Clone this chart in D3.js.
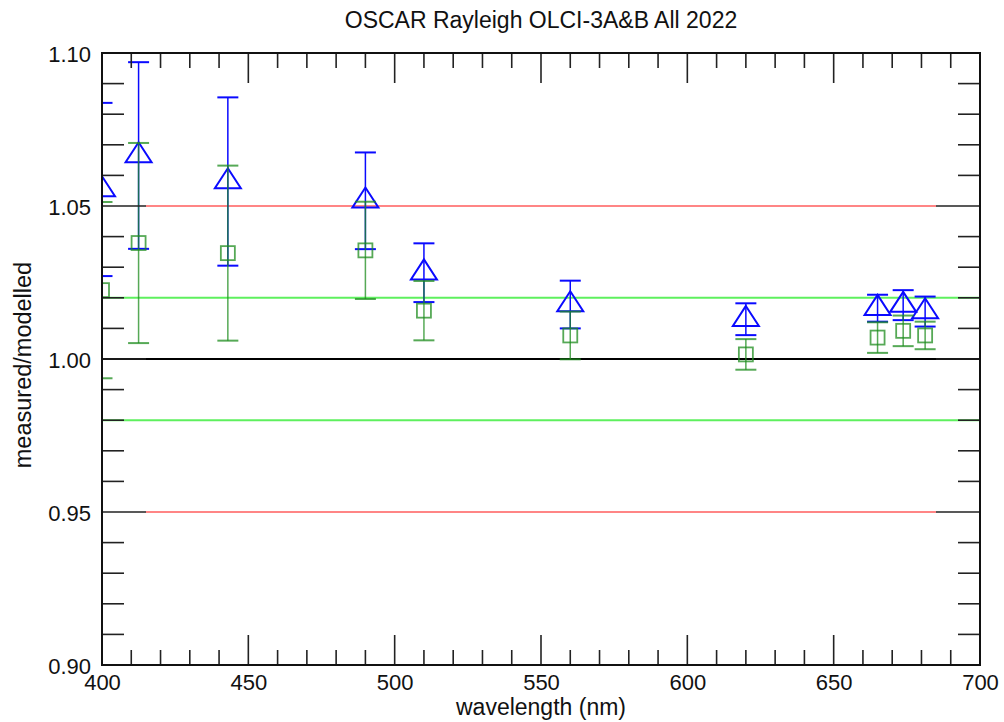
<!DOCTYPE html>
<html>
<head>
<meta charset="utf-8">
<script src="https://cdn.jsdelivr.net/npm/d3@7"></script>
<style>
  html, body { margin: 0; padding: 0; background: #fff; }
  text { font-family: "Liberation Sans", Arial, sans-serif; fill: #111; }
</style>
</head>
<body>
<svg id="chart" width="1004" height="722"></svg>
<script>
// ---- data ----
const wavelengths = [400, 412.5, 443, 490, 510, 560, 620, 665, 673.75, 681.25];
const blueValues  = [1.0554, 1.0665, 1.0580, 1.0517, 1.0282, 1.0178, 1.0130, 1.0166, 1.0176, 1.0155];
const blueErrors  = [0.0283, 0.0305, 0.0275, 0.0158, 0.0096, 0.0078, 0.0052, 0.0044, 0.0049, 0.0049];
const greenValues = [1.0225, 1.0379, 1.0346, 1.0355, 1.0158, 1.0077, 1.0015, 1.0070, 1.0092, 1.0077];
const greenErrors = [0.0288, 0.0327, 0.0286, 0.0159, 0.0097, 0.0078, 0.0050, 0.0050, 0.0050, 0.0045];

const xTickLabels = [400, 450, 500, 550, 600, 650, 700];
const yTickLabels = [0.90, 0.95, 1.00, 1.05, 1.10];
const redLevels = [1.05, 0.95];
const greenLevels = [1.02, 0.98];
const redRange = [415, 685];

const titleText = "OSCAR Rayleigh OLCI-3A&B All 2022";
const xTitle = "wavelength (nm)";
const yTitle = "measured/modelled";

// ---- layout ----
const L = 102, R = 980, T = 53, B = 665;
const svg = d3.select("#chart");
const x = d3.scaleLinear().domain([400, 700]).range([L, R]);
const y = d3.scaleLinear().domain([0.90, 1.10]).range([B, T]);

svg.append("defs").append("clipPath").attr("id", "plotclip")
  .append("rect").attr("x", L).attr("y", T).attr("width", R - L).attr("height", B - T);

const plot = svg.append("g").attr("clip-path", "url(#plotclip)");

// reference lines
plot.selectAll(".gline").data(greenLevels).join("line")
  .attr("x1", L).attr("x2", R)
  .attr("y1", d => y(d)).attr("y2", d => y(d))
  .attr("stroke", "#5ef05e").attr("stroke-width", 2);
plot.selectAll(".rline").data(redLevels).join("line")
  .attr("x1", x(redRange[0])).attr("x2", x(redRange[1]))
  .attr("y1", d => y(d)).attr("y2", d => y(d))
  .attr("stroke", "#ff8585").attr("stroke-width", 2);
plot.append("line")
  .attr("x1", L).attr("x2", R).attr("y1", y(1.0)).attr("y2", y(1.0))
  .attr("stroke", "#000").attr("stroke-width", 2);

// ticks
const tickG = svg.append("g").attr("stroke", "#222").attr("stroke-width", 1.6);
const xMinor = d3.range(0, 31).map(i => 400 + i * 10);
const isXMajor = v => Math.abs(v % 50) < 1e-6;
xMinor.forEach(v => {
  const len = isXMajor(v) ? 30 : 15;
  tickG.append("line").attr("x1", x(v)).attr("x2", x(v)).attr("y1", B).attr("y2", B - len);
  tickG.append("line").attr("x1", x(v)).attr("x2", x(v)).attr("y1", T).attr("y2", T + len);
});
const yMinor = d3.range(0, 21).map(i => +(0.90 + i * 0.01).toFixed(2));
const isYMajor = v => Math.abs(Math.round(v * 100) % 5) === 0;
yMinor.forEach(v => {
  const len = isYMajor(v) ? 44 : 22;
  tickG.append("line").attr("x1", L).attr("x2", L + len).attr("y1", y(v)).attr("y2", y(v));
  tickG.append("line").attr("x1", R).attr("x2", R - len).attr("y1", y(v)).attr("y2", y(v));
});

// error bars + markers
const capW = 10.5;
function drawSeries(vals, errs, color, opacity, marker) {
  const g = plot.append("g").attr("stroke", color).attr("fill", "none").attr("stroke-opacity", opacity);
  wavelengths.forEach((w, i) => {
    const cx = x(w), cy = y(vals[i]);
    const y1 = y(vals[i] + errs[i]), y2 = y(vals[i] - errs[i]);
    g.append("line").attr("x1", cx).attr("x2", cx).attr("y1", y1).attr("y2", y2).attr("stroke-width", 1.5);
    g.append("line").attr("x1", cx - capW).attr("x2", cx + capW).attr("y1", y1).attr("y2", y1).attr("stroke-width", 2);
    g.append("line").attr("x1", cx - capW).attr("x2", cx + capW).attr("y1", y2).attr("y2", y2).attr("stroke-width", 2);
    if (marker === "tri") {
      g.append("path")
        .attr("d", `M${cx},${cy - 13.3}L${cx + 13},${cy + 6.7}L${cx - 13},${cy + 6.7}Z`)
        .attr("stroke-width", 2);
    } else {
      g.append("rect").attr("x", cx - 7).attr("y", cy - 7).attr("width", 14).attr("height", 14)
        .attr("stroke-width", 1.8);
    }
  });
}
drawSeries(blueValues, blueErrors, "#0a0aff", 1, "tri");
drawSeries(greenValues, greenErrors, "#1e8c1e", 0.75, "sq");

// frame
svg.append("rect").attr("x", L).attr("y", T).attr("width", R - L).attr("height", B - T)
  .attr("fill", "none").attr("stroke", "#111").attr("stroke-width", 2);

// tick labels via axes
const xAxis = d3.axisBottom(x).tickValues(xTickLabels).tickSize(0).tickPadding(0).tickFormat(d3.format("d"));
const gx = svg.append("g").attr("transform", `translate(0,${B})`).call(xAxis);
gx.select(".domain").remove();
gx.selectAll("text").attr("dy", null).attr("y", 25).style("font-size", "22px")
  .style("font-family", "Liberation Sans, Arial, sans-serif").attr("fill", "#111");

const yAxis = d3.axisLeft(y).tickValues(yTickLabels).tickSize(0).tickPadding(0).tickFormat(d3.format(".2f"));
const gy = svg.append("g").attr("transform", `translate(${L - 11},0)`).call(yAxis);
gy.select(".domain").remove();
gy.selectAll("text").attr("dy", null).attr("x", 0).attr("y", 8).style("font-size", "22px")
  .style("font-family", "Liberation Sans, Arial, sans-serif").attr("fill", "#111");

// titles
svg.append("text").attr("x", 541).attr("y", 28).attr("text-anchor", "middle")
  .style("font-size", "23px").text(titleText);
svg.append("text").attr("x", 541).attr("y", 715).attr("text-anchor", "middle")
  .style("font-size", "23px").text(xTitle);
svg.append("text").attr("transform", "translate(31,365) rotate(-90)").attr("text-anchor", "middle")
  .style("font-size", "23.5px").text(yTitle);
</script>
</body>
</html>
